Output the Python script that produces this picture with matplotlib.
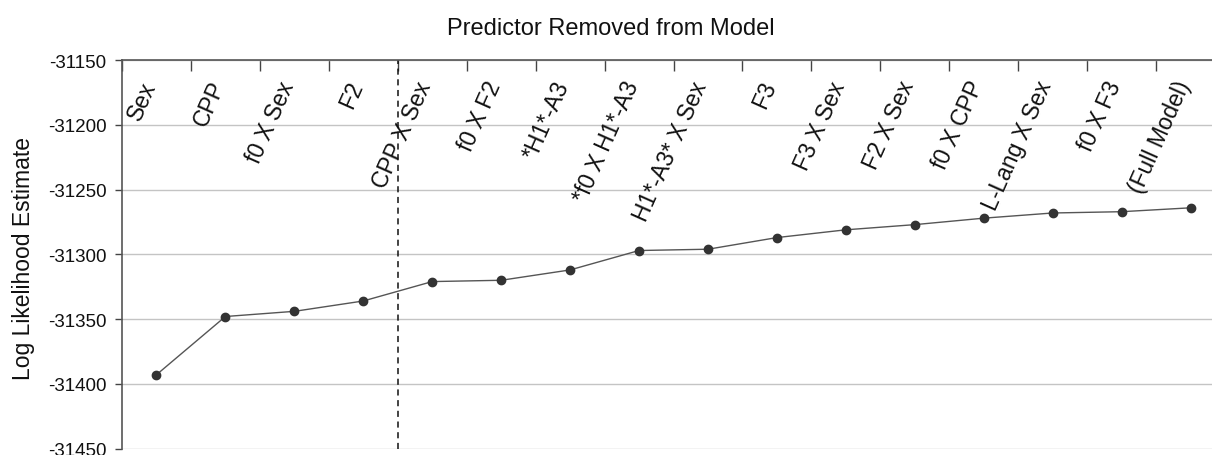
import numpy as np
import matplotlib
matplotlib.use('Agg')
import matplotlib.pyplot as plt

plt.rcParams['font.family'] = ['Liberation Sans', 'DejaVu Sans']

# predictor dropped at each step, and the model's log likelihood after dropping it
predictors = ['Sex', 'CPP', 'f0 X Sex', 'F2', 'CPP X Sex', 'f0 X F2', '*H1*-A3',
              '*f0 X H1*-A3', 'H1*-A3* X Sex', 'F3', 'F3 X Sex', 'F2 X Sex',
              'f0 X CPP', 'L-Lang X Sex', 'f0 X F3', '(Full Model)']
log_lik = [-31393, -31348, -31344, -31336, -31321, -31320, -31312,
           -31297, -31296, -31287, -31281, -31277, -31272, -31268, -31267, -31264]
y_ticks = [-31450, -31400, -31350, -31300, -31250, -31200, -31150]
cutoff = 3.5   # dashed separator between F2 and CPP X Sex

W, H = 1212, 456
fig = plt.figure(figsize=(W / 100, H / 100), dpi=100)
# axes run a bit past the right edge of the figure
ax = fig.add_axes([122 / W, 1 - 449.5 / H, 1103 / W, 388.2 / H])

x = np.arange(len(predictors))
ax.plot(x, log_lik, color='#555555', lw=1.0, zorder=3)
ax.plot(x, log_lik, 'o', color='#333333', ms=6, zorder=4)

ax.axvline(cutoff, color='#111111', lw=1.1, ls=(0, (4, 3)), zorder=2)

ax.set_xlim(-0.5, len(predictors) - 0.5)
ax.set_ylim(-31450, -31150)
ax.set_yticks(y_ticks)
ax.set_yticklabels([str(v) for v in y_ticks], fontsize=13.5)
ax.grid(axis='y', color='#c4c4c4', lw=1.0)
ax.set_axisbelow(True)

# category boundaries marked on the top axis
ax.xaxis.tick_top()
ax.set_xticks(np.arange(-0.5, len(predictors)))
ax.set_xticklabels([])
ax.tick_params(axis='x', direction='in', length=8, width=1.0, color='#444444')
ax.tick_params(axis='y', direction='out', length=5, width=1.0, color='#444444',
               pad=6, labelcolor='#111111')

for s in ['bottom', 'right']:
    ax.spines[s].set_visible(False)
for s in ['top', 'left']:
    ax.spines[s].set_color('#555555')
    ax.spines[s].set_linewidth(1.2)

for xi, name in zip(x, predictors):
    ax.text(xi + 0.06, -31163, name, rotation=66, ha='right', va='top',
            fontsize=16.5, color='#111111')

fig.text(611 / W, 1 - 35 / H, 'Predictor Removed from Model', ha='center',
         va='baseline', fontsize=17, color='#111111')
fig.text(23.5 / W, 1 - 259 / H, 'Log Likelihood Estimate', ha='center',
         va='center', rotation=90, fontsize=16.5, color='#111111')

fig.savefig('out.png', dpi=100, facecolor='white')
